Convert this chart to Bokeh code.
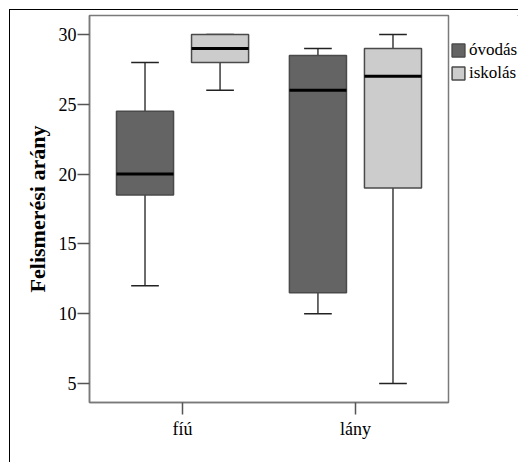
from bokeh.plotting import figure
from bokeh.layouts import row
from bokeh.models import (FactorRange, Range1d, Legend, LegendItem, ColumnDataSource,
                          FixedTicker)
from bokeh.transform import dodge
from bokeh.embed import file_html
from bokeh.resources import INLINE

groups = ["fíú", "lány"]
series = ["óvodás", "iskolás"]
colors = ["#646464", "#cccccc"]

ovodas_low = [12, 10]
ovodas_q1 = [18.5, 11.5]
ovodas_med = [20, 26]
ovodas_q3 = [24.5, 28.5]
ovodas_high = [28, 29]

iskolas_low = [26, 5]
iskolas_q1 = [28, 19]
iskolas_med = [29, 27]
iskolas_q3 = [30, 29]
iskolas_high = [30, 30]

y_ticks = [5, 10, 15, 20, 25, 30]

W, H = 440, 452
FL, FT, FR, FB = 79, 5, 438, 392  # frame edges relative to figure origin
p = figure(width=W, height=H, output_backend="svg", toolbar_location=None,
           x_range=FactorRange(*groups, range_padding=0.038),
           y_range=Range1d(3.64, 31.36))
p.min_border_left = FL
p.min_border_top = FT
p.min_border_bottom = H - FB
p.min_border_right = W - FR
p.xgrid.grid_line_color = None
p.ygrid.grid_line_color = None
p.outline_line_color = "#7a7a7a"
p.outline_line_width = 1.5
p.background_fill_color = "white"
p.border_fill_color = "white"

font = "Liberation Serif"
for ax in (p.xaxis[0], p.yaxis[0]):
    ax.axis_line_color = "#7a7a7a"
    ax.axis_line_width = 1.5
    ax.major_tick_line_color = "#555555"
    ax.major_tick_line_width = 1.5
    ax.major_tick_out = 12
    ax.major_tick_in = 0
    ax.minor_tick_line_color = None
    ax.major_label_text_font = font
    ax.major_label_text_font_size = "18px"
    ax.major_label_text_color = "black"
    ax.major_label_standoff = 1

p.yaxis[0].ticker = FixedTicker(ticks=y_ticks)
p.yaxis[0].axis_label = "Felismerési arány"
p.yaxis[0].axis_label_text_font = font
p.yaxis[0].axis_label_text_font_style = "bold"
p.yaxis[0].axis_label_text_font_size = "22px"
p.yaxis[0].axis_label_text_color = "black"
p.yaxis[0].axis_label_standoff = 6
p.xaxis[0].major_label_standoff = 4

box_w = 0.33
cap_w = 0.16
offsets = [-0.217, 0.217]
data = [
    (ovodas_low, ovodas_q1, ovodas_med, ovodas_q3, ovodas_high),
    (iskolas_low, iskolas_q1, iskolas_med, iskolas_q3, iskolas_high),
]
line_c = "#3c3c3c"
box_line = "#4a4a4a"
sources = []
for name, col, off, (lo, q1, med, q3, hi) in zip(series, colors, offsets, data):
    src = ColumnDataSource(dict(g=groups, lo=lo, q1=q1, med=med, q3=q3, hi=hi))
    sources.append(src)
    xc = dodge("g", off, range=p.x_range)
    p.segment(x0=xc, x1=xc, y0="q3", y1="hi", source=src, line_color=line_c, line_width=1.5)
    p.segment(x0=xc, x1=xc, y0="q1", y1="lo", source=src, line_color=line_c, line_width=1.5)
    p.segment(x0=dodge("g", off - cap_w / 2, range=p.x_range),
              x1=dodge("g", off + cap_w / 2, range=p.x_range),
              y0="hi", y1="hi", source=src, line_color="#222222", line_width=1.5)
    p.segment(x0=dodge("g", off - cap_w / 2, range=p.x_range),
              x1=dodge("g", off + cap_w / 2, range=p.x_range),
              y0="lo", y1="lo", source=src, line_color="#222222", line_width=1.5)
    p.vbar(x=xc, width=box_w, top="q3", bottom="q1", source=src,
           fill_color=col, line_color=box_line, line_width=1.5)
    p.segment(x0=dodge("g", off - box_w / 2, range=p.x_range),
              x1=dodge("g", off + box_w / 2, range=p.x_range),
              y0="med", y1="med", source=src, line_color="black", line_width=3)

# legend panel to the right of the plot box (its own small figure; the
# legend renderers reuse the box data, which lies outside this panel's ranges)
LW = 68
pl = figure(width=LW, height=H, output_backend="svg", toolbar_location=None,
            x_range=Range1d(0, 1), y_range=Range1d(0, 1),
            x_axis_type=None, y_axis_type=None,
            min_border_left=0, min_border_right=0, min_border_top=FT,
            min_border_bottom=H - FB)
pl.xgrid.grid_line_color = None
pl.ygrid.grid_line_color = None
pl.outline_line_color = None
pl.background_fill_color = "white"
pl.border_fill_color = "white"
items = []
for name, col, src in zip(series, colors, sources):
    r = pl.vbar(x="q1", top="q3", bottom="q1", width=0.1, source=src,
                fill_color=col, line_color=box_line, line_width=1.5)
    items.append(LegendItem(label=name, renderers=[r]))
legend = Legend(items=items, location="top_left",
                title=" ", title_text_font_size="17px", title_standoff=5,
                title_text_font=font,
                glyph_width=16, glyph_height=16, label_standoff=3, spacing=3,
                padding=0, margin=0, border_line_color=None, background_fill_alpha=0,
                label_text_font=font, label_text_font_size="17px",
                label_text_color="black", label_height=16)
pl.add_layout(legend)

layout = row(p, pl, styles={"border-top": "1.5px solid black",
                            "border-left": "1.5px solid black",
                            "margin-top": "9px", "margin-left": "9px"})

open("out.html", "w").write(file_html(layout, INLINE))
